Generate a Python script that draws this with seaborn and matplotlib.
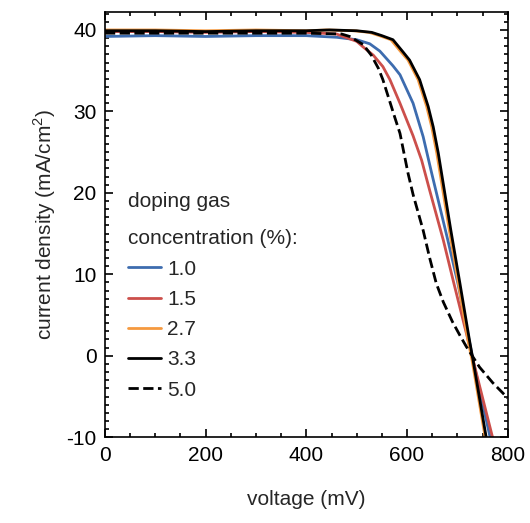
import numpy as np
import pandas as pd
import matplotlib
matplotlib.use("Agg")
import matplotlib.pyplot as plt
from matplotlib.ticker import MultipleLocator
import seaborn as sns

# J-V curves (voltage in mV, current density in mA/cm2)
v_10 = [0, 100, 200, 300, 400, 460, 500, 526, 546, 572, 586, 612, 632, 649, 681, 701, 731, 766]
j_10 = [39.2, 39.3, 39.2, 39.3, 39.3, 39.1, 38.8, 38.3, 37.4, 35.6, 34.5, 31.0, 26.9, 22.4, 14.2, 8.9, -0.5, -10.3]

v_15 = [0, 100, 200, 300, 400, 460, 473, 500, 513, 533, 552, 566, 586, 612, 629, 645, 672, 693, 731, 771]
j_15 = [39.8, 39.8, 39.7, 39.8, 39.7, 39.5, 39.2, 38.6, 37.9, 36.9, 35.5, 33.9, 31.0, 27.0, 24.0, 20.3, 14.2, 8.9, -0.5, -10.3]

v_27 = [0, 100, 200, 300, 400, 440, 495, 525, 545, 568, 588, 602, 622, 639, 649, 659, 684, 702, 721, 729, 756]
j_27 = [40.0, 40.0, 39.9, 40.0, 39.9, 40.0, 39.9, 39.7, 39.3, 38.8, 37.3, 36.3, 33.9, 30.6, 28.1, 24.9, 15.4, 8.9, 1.9, -0.5, -10.3]

v_33 = [0, 100, 200, 300, 400, 446, 500, 530, 550, 572, 592, 605, 625, 642, 652, 662, 687, 705, 724, 731, 758]
j_33 = [39.9, 39.9, 39.8, 39.9, 39.9, 40.0, 39.9, 39.7, 39.3, 38.8, 37.3, 36.3, 33.9, 30.6, 28.1, 24.9, 15.4, 8.9, 1.9, -0.5, -10.3]

v_50 = [0, 100, 200, 300, 400, 470, 486, 513, 529, 543, 552, 576, 586, 602, 612, 632, 645, 658, 672, 690, 705, 718, 744, 770, 797, 800]
j_50 = [39.6, 39.6, 39.6, 39.6, 39.6, 39.5, 39.2, 38.2, 36.9, 35.3, 33.9, 29.2, 27.3, 22.4, 19.8, 15.4, 12.0, 8.9, 6.6, 4.2, 2.5, 1.1, -1.4, -3.3, -5.0, -5.2]

labels = ["1.0", "1.5", "2.7", "3.3", "5.0"]
colors = ["#3d6caf", "#cc4f4b", "#f5993f", "#000000", "#000000"]
styles = ["-", "-", "-", "-", "--"]

sns.set_style("ticks")
plt.rcParams['font.family'] = ['Liberation Sans', 'DejaVu Sans']
plt.rcParams['axes.unicode_minus'] = False

fig = plt.figure(figsize=(5.3, 5.23), dpi=100)
ax = fig.add_axes([0.198, 0.164, 0.760, 0.813])

series = [(v_10, j_10), (v_15, j_15), (v_27, j_27), (v_33, j_33), (v_50, j_50)]
for (v, j), lab, c, ls in zip(series, labels, colors, styles):
    df = pd.DataFrame({'V': v, 'J': j})
    sns.lineplot(data=df, x='V', y='J', color=c, linestyle=ls, linewidth=2.0,
                 label=lab, ax=ax, sort=False)

ax.set_xlim(0, 800)
ax.set_ylim(-10, 42.2)
ax.xaxis.set_major_locator(MultipleLocator(200))
ax.xaxis.set_minor_locator(MultipleLocator(50))
ax.yaxis.set_major_locator(MultipleLocator(10))
ax.yaxis.set_minor_locator(MultipleLocator(1))
ax.tick_params(which='both', direction='in', top=True, right=True, labelsize=15, width=1.2, colors='black')
ax.tick_params(which='major', length=6, pad=6)
ax.tick_params(which='minor', length=3)
for s in ax.spines.values():
    s.set_linewidth(1.2)
    s.set_color('black')

ax.set_xlabel('voltage (mV)', fontsize=15, labelpad=18)
ax.set_ylabel(r'current density (mA/cm$^{\mathregular{2}}$)', fontsize=15, labelpad=6)

leg = ax.legend(title='doping gas\nconcentration (%):', loc='upper left',
                bbox_to_anchor=(0.01, 0.62), frameon=False, fontsize=15,
                title_fontsize=15, handlelength=1.6, handletextpad=0.3,
                labelspacing=0.54, alignment='left')
leg.get_title().set_linespacing(2.2)

fig.savefig('out.png', dpi=100)
